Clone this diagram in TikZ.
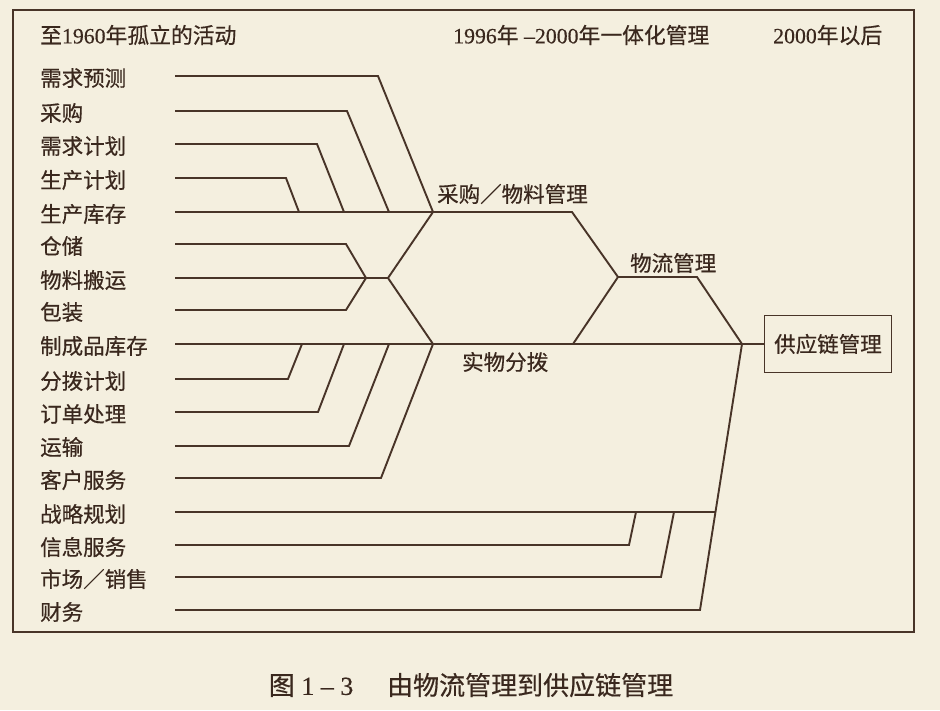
\documentclass[tikz,border=0pt]{standalone}
\usepackage{fontspec}
\setmainfont{Liberation Serif}[FakeBold=0.4]
\newfontfamily\cjk{Noto Sans CJK SC}[FakeBold=0.5]
\definecolor{bg}{RGB}{244,239,223}
\definecolor{ink}{RGB}{72,52,40}
\definecolor{txt}{RGB}{58,40,30}
\begin{document}
\begin{tikzpicture}[x=1pt,y=-1pt,
  conn/.style={draw=ink,line width=1.9pt,line join=miter},
  framebox/.style={draw=ink,line width=1.7pt},
  lbl/.style={anchor=west,inner sep=0pt,text=txt,font=\cjk\fontsize{21.5}{24}\selectfont},
  head/.style={anchor=west,inner sep=0pt,text=txt,font=\fontsize{21.8}{24}\selectfont},
  boxnode/.style={draw=ink,line width=1.7pt,text=txt,font=\cjk\fontsize{21.5}{24}\selectfont,minimum width=127pt,minimum height=57pt,inner sep=0pt},
  captext/.style={inner sep=0pt,text=txt,font=\fontsize{26}{28}\selectfont}]
\useasboundingbox (0,0) rectangle (940,710);
\fill[bg] (0,0) rectangle (940,710);
\draw[framebox] (13,10) rectangle (914,632);

% headers
\node[head] (h1) at (40,35) {{\cjk 至}1960{\cjk 年孤立的活动}};
\node[head] (h2) at (453,35) {1996{\cjk 年} –2000{\cjk 年一体化管理}};
\node[head] (h3) at (773,35) {2000{\cjk 年以后}};

% left labels
\node[lbl] (l1)  at (40,78)  {需求预测};
\node[lbl] (l2)  at (40,113) {采购};
\node[lbl] (l3)  at (40,146) {需求计划};
\node[lbl] (l4)  at (40,180) {生产计划};
\node[lbl] (l5)  at (40,214) {生产库存};
\node[lbl] (l6)  at (40,246) {仓储};
\node[lbl] (l7)  at (40,280) {物料搬运};
\node[lbl] (l8)  at (40,312) {包装};
\node[lbl] (l9)  at (40,346) {制成品库存};
\node[lbl] (l10) at (40,381) {分拨计划};
\node[lbl] (l11) at (40,414) {订单处理};
\node[lbl] (l12) at (40,447) {运输};
\node[lbl] (l13) at (40,480) {客户服务};
\node[lbl] (l14) at (40,514) {战略规划};
\node[lbl] (l15) at (40,547) {信息服务};
\node[lbl] (l16) at (40,579) {市场／销售};
\node[lbl] (l17) at (40,612) {财务};

% line starts
\coordinate (s1) at (175,76);  \coordinate (s2) at (175,111);
\coordinate (s3) at (175,144); \coordinate (s4) at (175,178);
\coordinate (s5) at (175,212); \coordinate (s6) at (175,244);
\coordinate (s7) at (175,278); \coordinate (s8) at (175,310);
\coordinate (s9) at (175,344); \coordinate (s10) at (175,379);
\coordinate (s11) at (175,412); \coordinate (s12) at (175,446);
\coordinate (s13) at (175,478); \coordinate (s14) at (175,512);
\coordinate (s15) at (175,545); \coordinate (s16) at (175,577);
\coordinate (s17) at (175,610);

% junctions
\coordinate (J1) at (433,212);
\coordinate (J2) at (366,278);
\coordinate (J3) at (388,278);
\coordinate (J4) at (433,344);
\coordinate (P1) at (572,212);
\coordinate (M)  at (618,277);
\coordinate (P2) at (697,277);
\coordinate (S)  at (742,344);
\coordinate (P3) at (573,344);
\coordinate (Q1) at (716,512);

% mid labels
\node[lbl] (g1) at (437,194) {采购／物料管理};
\node[lbl] (g2) at (630,263) {物流管理};
\node[lbl] (g3) at (462,362) {实物分拨};
\node[boxnode] (scm) at (828,344) {供应链管理};

% group 1
\draw[conn] (s1) -- (378,76) -- (J1);
\draw[conn] (s2) -- (347,111) -- (389,212);
\draw[conn] (s3) -- (317,144) -- (344,212);
\draw[conn] (s4) -- (286,178) -- (299,212);
\draw[conn] (s5) -- (J1) -- (P1) -- (M) -- (P2) -- (S);
% group 2
\draw[conn] (s6) -- (346,244) -- (J2);
\draw[conn] (s7) -- (J2) -- (J3);
\draw[conn] (s8) -- (346,310) -- (J2);
\draw[conn] (J1) -- (J3) -- (J4);
% group 3
\draw[conn] (s9) -- (J4) -- (P3) -- (S) -- (scm.west);
\draw[conn] (M) -- (P3);
\draw[conn] (s10) -- (288,379) -- (302,344);
\draw[conn] (s11) -- (318,412) -- (344,344);
\draw[conn] (s12) -- (349,446) -- (389,344);
\draw[conn] (s13) -- (381,478) -- (J4);
% group 4
\draw[conn] (s14) -- (Q1);
\draw[conn] (s15) -- (629,545) -- (636,512);
\draw[conn] (s16) -- (661,577) -- (674,512);
\draw[conn] (s17) -- (700,610) -- (S);

% caption
\node[captext] (caption) at (471,685) {{\cjk 图} 1 – 3\hspace{1.3em}{\cjk 由物流管理到供应链管理}};
\end{tikzpicture}
\end{document}
